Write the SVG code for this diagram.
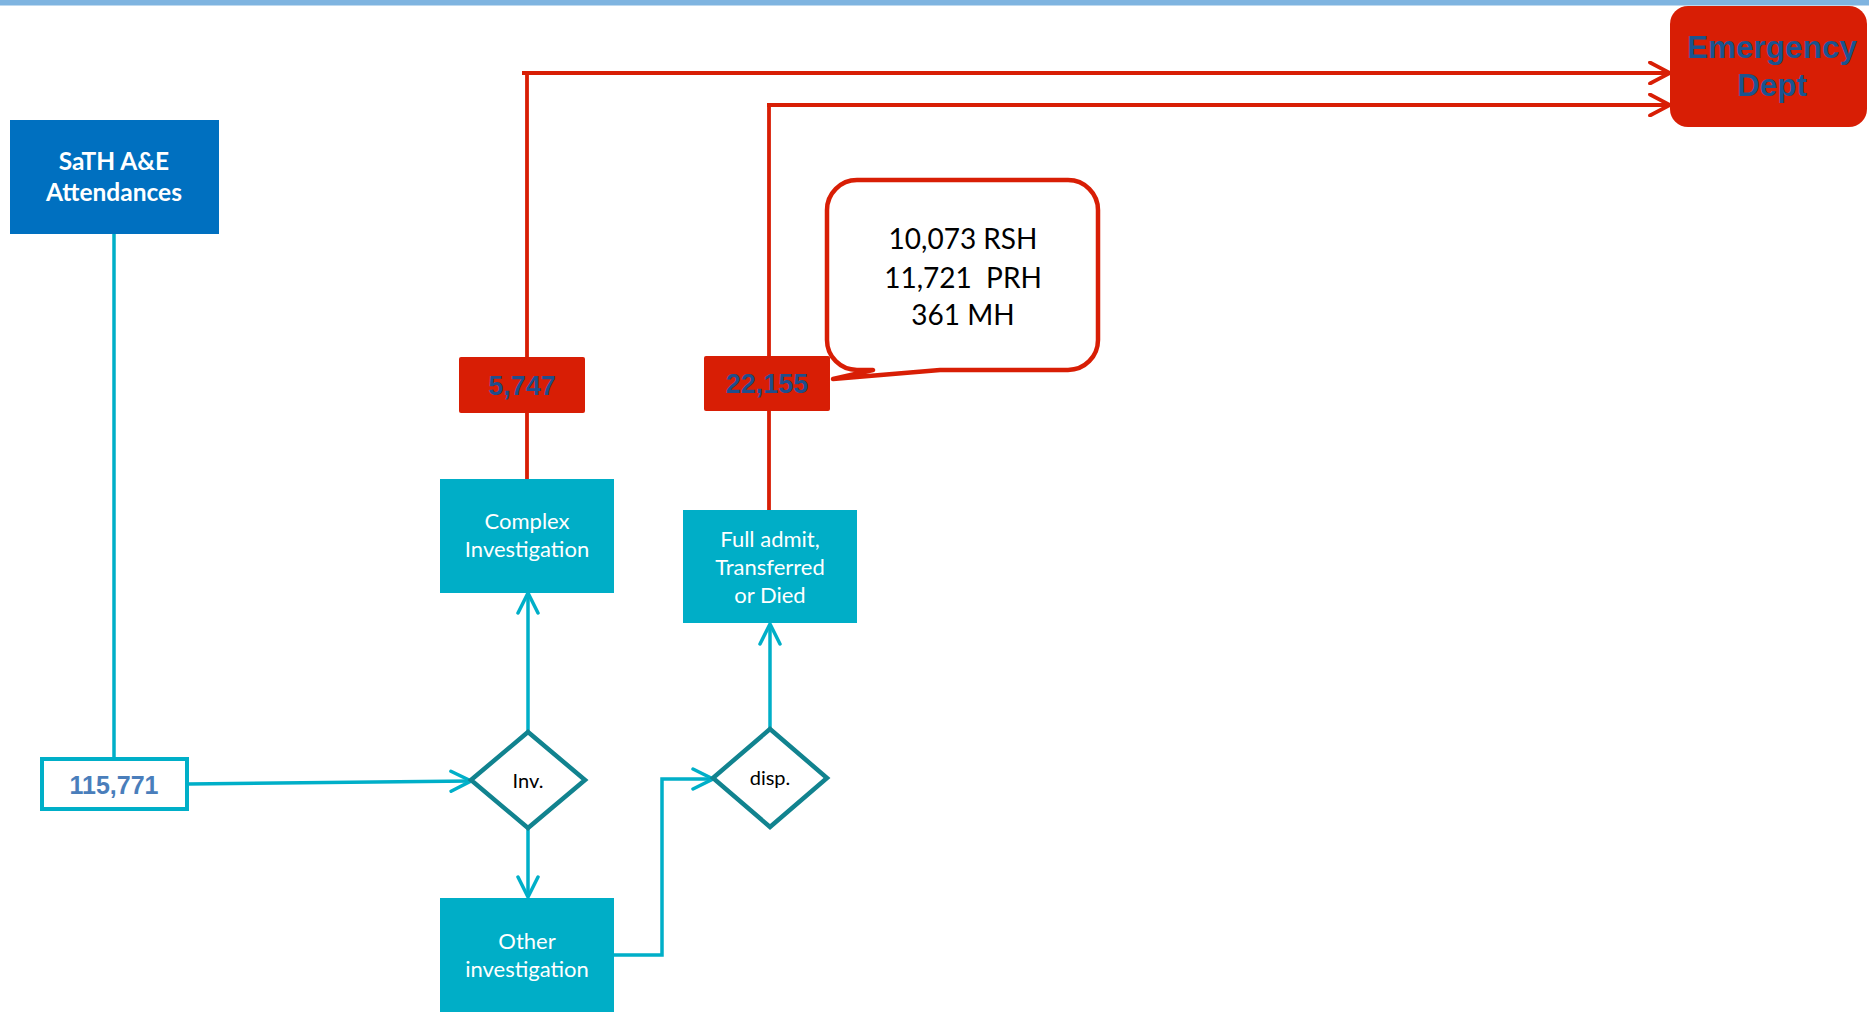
<svg xmlns="http://www.w3.org/2000/svg" width="1869" height="1012" viewBox="0 0 1869 1012">
<style>
.teal{fill:none;stroke:#00afc8;stroke-width:3.5}
.red{fill:none;stroke:#d81e05;stroke-width:3.8}
.box{fill:#00aec7}
.lbl{font-family:Lato,"Open Sans",sans-serif;font-size:22px;fill:#ffffff;text-anchor:middle}
.dia{fill:#ffffff;stroke:#11838f;stroke-width:4.5;stroke-linejoin:miter}
.dtxt{font-family:Lato,"Open Sans",sans-serif;font-size:20px;fill:#000000;text-anchor:middle}
.num{font-family:"Liberation Sans",Arial,sans-serif;font-weight:bold;font-size:27px;fill:#1f4e8c;text-anchor:middle}
.redbox{fill:#d81e05}
</style>
<defs>
<marker id="ta" markerUnits="userSpaceOnUse" markerWidth="24" markerHeight="24" viewBox="0 0 24 24" refX="22" refY="12" orient="auto">
<path d="M2,2 L22,12 L2,22" fill="none" stroke="#00afc8" stroke-width="3.5" stroke-linecap="round"/>
</marker>
<marker id="ra" markerUnits="userSpaceOnUse" markerWidth="24" markerHeight="24" viewBox="0 0 24 24" refX="22" refY="12" orient="auto">
<path d="M2,1.5 L22,12 L2,22.5" fill="none" stroke="#d81e05" stroke-width="3.8" stroke-linecap="round"/>
</marker>
</defs>
<rect x="0" y="0" width="1869" height="5.5" fill="#7fb4e0"/>
<g id="connectors">
<path class="teal" d="M114,234 V757"/>
<path class="teal" d="M188,784 L471,781" marker-end="url(#ta)"/>
<path class="teal" d="M528,732 V593" marker-end="url(#ta)"/>
<path class="teal" d="M528,828 V897" marker-end="url(#ta)"/>
<path class="teal" d="M614,955 H662 V779 H713" marker-end="url(#ta)"/>
<path class="teal" d="M770,729 V624" marker-end="url(#ta)"/>
<path class="red" d="M527,479 V73"/>
<path class="red" d="M522,73 H1670" marker-end="url(#ra)"/>
<path class="red" d="M769,510 V105"/>
<path class="red" d="M767,105 H1670" marker-end="url(#ra)"/>
</g>
<g id="sath">
<rect x="10" y="120" width="209" height="114" fill="#0070c0"/>
<text x="114" y="170" font-family="Lato,'Open Sans',sans-serif" font-weight="bold" font-size="24.5" fill="#ffffff" text-anchor="middle">SaTH A&amp;E</text>
<text x="114" y="201" font-family="Lato,'Open Sans',sans-serif" font-weight="bold" font-size="24.5" fill="#ffffff" text-anchor="middle">Attendances</text>
</g>
<g id="total">
<rect x="42" y="759" width="145" height="50" fill="#ffffff" stroke="#00afc8" stroke-width="4"/>
<text x="114" y="794" font-family="'Liberation Sans',Arial,sans-serif" font-weight="bold" font-size="25" fill="#4a7ebb" text-anchor="middle">115,771</text>
</g>
<g id="inv">
<polygon class="dia" points="471,780 528,732 585,780 528,828"/>
<text class="dtxt" x="528" y="788">Inv.</text>
</g>
<g id="complex">
<rect class="box" x="440" y="479" width="174" height="114"/>
<text class="lbl" x="527" y="529">Complex</text>
<text class="lbl" x="527" y="557">Investigation</text>
</g>
<g id="other">
<rect class="box" x="440" y="898" width="174" height="114"/>
<text class="lbl" x="527" y="949">Other</text>
<text class="lbl" x="527" y="977">investigation</text>
</g>
<g id="disp">
<polygon class="dia" points="713,778 770,729 827,778 770,827"/>
<text class="dtxt" x="770" y="785">disp.</text>
</g>
<g id="fulladmit">
<rect class="box" x="683" y="510" width="174" height="113"/>
<text class="lbl" x="770" y="547">Full admit,</text>
<text class="lbl" x="770" y="575">Transferred</text>
<text class="lbl" x="770" y="603">or Died</text>
</g>
<g id="n5747">
<rect class="redbox" x="459" y="357" width="126" height="56" rx="2"/>
<text class="num" x="522" y="395">5,747</text>
</g>
<g id="n22155">
<rect class="redbox" x="704" y="356" width="126" height="55" rx="2"/>
<text class="num" x="767" y="393">22,155</text>
</g>
<g id="callout">
<path d="M857,180 H1068 A30,30 0 0 1 1098,210 V340 A30,30 0 0 1 1068,370 H940 L833,379 L873,370 H857 A30,30 0 0 1 827,340 V210 A30,30 0 0 1 857,180 Z" fill="#ffffff" stroke="#d81e05" stroke-width="4.5" stroke-linejoin="round"/>
<text x="963" y="249" font-family="Lato,'Open Sans',sans-serif" font-size="28" fill="#000000" text-anchor="middle">10,073 RSH</text>
<text x="963" y="288" font-family="Lato,'Open Sans',sans-serif" font-size="28" fill="#000000" text-anchor="middle" xml:space="preserve">11,721  PRH</text>
<text x="963" y="325" font-family="Lato,'Open Sans',sans-serif" font-size="28" fill="#000000" text-anchor="middle">361 MH</text>
</g>
<g id="ed">
<rect x="1670" y="6" width="197" height="121" rx="18" fill="#d81e05"/>
<text x="1772" y="58" font-family="'Liberation Sans',Arial,sans-serif" font-weight="bold" font-size="31.5" fill="#1a5490" text-anchor="middle">Emergency</text>
<text x="1772" y="96" font-family="'Liberation Sans',Arial,sans-serif" font-weight="bold" font-size="31.5" fill="#1a5490" text-anchor="middle">Dept</text>
</g>
</svg>
